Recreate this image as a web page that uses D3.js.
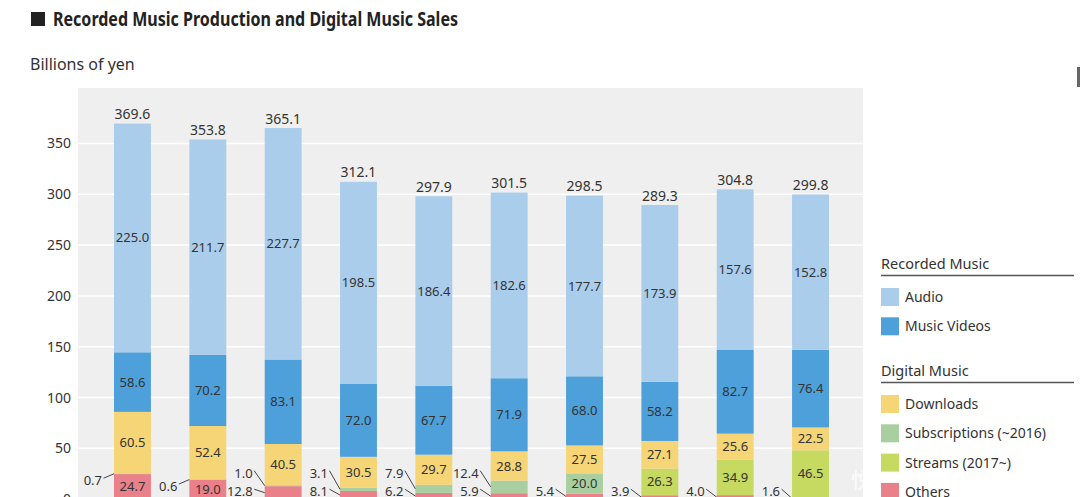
<!DOCTYPE html>
<html>
<head>
<meta charset="utf-8">
<script src="https://cdn.jsdelivr.net/npm/d3@7/dist/d3.min.js"></script>
<style>
  html, body { margin: 0; padding: 0; background: #fff; }
  svg { display: block; }
  text { font-family: "Noto Sans", sans-serif; fill: #333; }
</style>
</head>
<body>
<svg id="chart" width="1080" height="497"></svg>
<script>
// ---------- DATA ----------
const years = ["2010","2011","2012","2013","2014","2015","2016","2017","2018","2019"];
const audio         = [225.0, 211.7, 227.7, 198.5, 186.4, 182.6, 177.7, 173.9, 157.6, 152.8];
const musicVideos   = [58.6, 70.2, 83.1, 72.0, 67.7, 71.9, 68.0, 58.2, 82.7, 76.4];
const downloads     = [60.5, 52.4, 40.5, 30.5, 29.7, 28.8, 27.5, 27.1, 25.6, 22.5];
const subscriptions = [0.7, 0.6, 1.0, 3.1, 7.9, 12.4, 20.0, null, null, null];
const streams       = [null, null, null, null, null, null, null, 26.3, 34.9, 46.5];
const others        = [24.7, 19.0, 12.8, 8.1, 6.2, 5.9, 5.4, 3.9, 4.0, 1.6];
const totals        = [369.6, 353.8, 365.1, 312.1, 297.9, 301.5, 298.5, 289.3, 304.8, 299.8];
const yTicks        = [0, 50, 100, 150, 200, 250, 300, 350];

const seriesKeys   = ["others", "subscriptions", "streams", "downloads", "musicVideos", "audio"];
const seriesValues = { others, subscriptions, streams, downloads, musicVideos, audio };
const seriesNames  = {
  audio: "Audio", musicVideos: "Music Videos", downloads: "Downloads",
  subscriptions: "Subscriptions (~2016)", streams: "Streams (2017~)", others: "Others"
};
const legendGroups = [
  { title: "Recorded Music", keys: ["audio", "musicVideos"] },
  { title: "Digital Music",  keys: ["downloads", "subscriptions", "streams", "others"] }
];

// ---------- STYLE ----------
const colors = {
  audio: "#abcdec", musicVideos: "#4da0d9", downloads: "#f6d576",
  subscriptions: "#a9cfa0", streams: "#c6d961", others: "#ea808a"
};

const svg = d3.select("#chart");

const table = years.map((yr, i) => {
  const row = { year: yr };
  seriesKeys.forEach(k => row[k] = seriesValues[k][i] == null ? 0 : seriesValues[k][i]);
  return row;
});
const stacked = d3.stack().keys(seriesKeys)(table);

const x = d3.scaleBand().domain(years).range([94.8, 848.2]).paddingInner(0.51).paddingOuter(0.255);
const y = d3.scaleLinear().domain([0, 404.5]).range([499.2, 88]);

// plot background
svg.append("rect").attr("x", 78).attr("y", 88).attr("width", 785).attr("height", 430).attr("fill", "#efefef");

// gridlines
svg.append("g").selectAll("line").data(yTicks.filter(t => t > 0)).join("line")
  .attr("x1", 78).attr("x2", 863)
  .attr("y1", d => y(d)).attr("y2", d => y(d))
  .attr("stroke", "#fff").attr("stroke-width", 1.5);

// y axis
const yAxis = d3.axisLeft(y).tickValues(yTicks).tickSize(0).tickPadding(0);
const gy = svg.append("g").attr("transform", "translate(71,0)").call(yAxis);
gy.select(".domain").remove();
gy.selectAll("text").style("font-family", '"Noto Sans", sans-serif').style("font-size", "14px").style("fill", "#333");

// x axis (falls below the visible area, as in the cropped reference)
const xAxis = d3.axisBottom(x).tickSize(0).tickPadding(8);
const gx = svg.append("g").attr("transform", `translate(0,${y(0)})`).call(xAxis);
gx.select(".domain").remove();
gx.selectAll("text").style("font-family", '"Noto Sans", sans-serif').style("font-size", "14px").style("fill", "#333");

// bars
const layers = svg.append("g").selectAll("g").data(stacked).join("g")
  .attr("fill", d => colors[d.key]);
layers.selectAll("rect").data(d => d).join("rect")
  .attr("x", d => x(d.data.year))
  .attr("width", x.bandwidth())
  .attr("y", d => y(d[1]))
  .attr("height", d => Math.max(0, y(d[0]) - y(d[1])));

// segment labels
const labelG = svg.append("g");
stacked.forEach(layer => {
  layer.forEach((d, i) => {
    const v = seriesValues[layer.key][i];
    if (v == null) return;
    const top = y(d[1]), bot = y(d[0]);
    const h = bot - top, mid = (top + bot) / 2;
    const cx = x(d.data.year) + x.bandwidth() / 2;
    if (h >= 14) {
      labelG.append("text").attr("x", cx).attr("y", mid).attr("dy", "0.35em")
        .attr("text-anchor", "middle").style("font-size", "13px").text(v.toFixed(1));
    } else {
      const left = x(d.data.year);
      let ly;
      if (layer.key === "others") {
        ly = y(0) - 7.5;
      } else {
        const othersH = y(0) - y(others[i]);
        ly = othersH >= 14 ? mid + 7 : y(0) - 26;
      }
      labelG.append("text").attr("x", left - 12).attr("y", ly).attr("dy", "0.35em")
        .attr("text-anchor", "end").style("font-size", "13px").text(v.toFixed(1));
      labelG.append("line")
        .attr("x1", left - 10.5).attr("y1", ly - 2.5)
        .attr("x2", left).attr("y2", mid)
        .attr("stroke", "#444").attr("stroke-width", 1);
    }
  });
});

// total labels
svg.append("g").selectAll("text").data(years).join("text")
  .attr("x", d => x(d) + x.bandwidth() / 2)
  .attr("y", (d, i) => y(totals[i]) - 4.5)
  .attr("text-anchor", "middle").style("font-size", "14px")
  .text((d, i) => totals[i].toFixed(1));

// title
svg.append("rect").attr("x", 31).attr("y", 12).attr("width", 14).attr("height", 14).attr("fill", "#222");
svg.append("text").attr("x", 53).attr("y", 25.5)
  .attr("textLength", 405).attr("lengthAdjust", "spacingAndGlyphs")
  .style("font-family", '"Noto Sans", sans-serif')
  .style("font-weight", 700).style("font-size", "19px").style("fill", "#222")
  .text("Recorded Music Production and Digital Music Sales");

svg.append("text").attr("x", 30).attr("y", 70).style("font-size", "16px").text("Billions of yen");

// legend
const legendTops = [263.5, 370.5];
const rowStep = 29.3;
legendGroups.forEach((g, gi) => {
  const gt = legendTops[gi];
  svg.append("text").attr("x", 881).attr("y", gt).attr("dy", "0.35em")
    .style("font-size", "14.5px").text(g.title);
  svg.append("line").attr("x1", 881).attr("x2", 1074).attr("y1", gt + 12).attr("y2", gt + 12)
    .attr("stroke", "#555").attr("stroke-width", 1.3);
  g.keys.forEach((k, ki) => {
    const cy = gt + 33.5 + ki * rowStep;
    svg.append("rect").attr("x", 881).attr("y", cy - 9).attr("width", 18).attr("height", 18)
      .attr("fill", colors[k]);
    svg.append("text").attr("x", 905).attr("y", cy).attr("dy", "0.35em")
      .style("font-size", "14px").text(seriesNames[k]);
  });
});

// small artifacts of the source image
svg.append("rect").attr("x", 1077).attr("y", 67).attr("width", 3).attr("height", 20).attr("fill", "#666");
svg.append("text").attr("x", 851).attr("y", 488)
  .style("font-family", '"Noto Sans CJK SC", sans-serif').style("font-size", "22px")
  .style("fill", "#fff").style("fill-opacity", 0.8).text("悦");
</script>
</body>
</html>
